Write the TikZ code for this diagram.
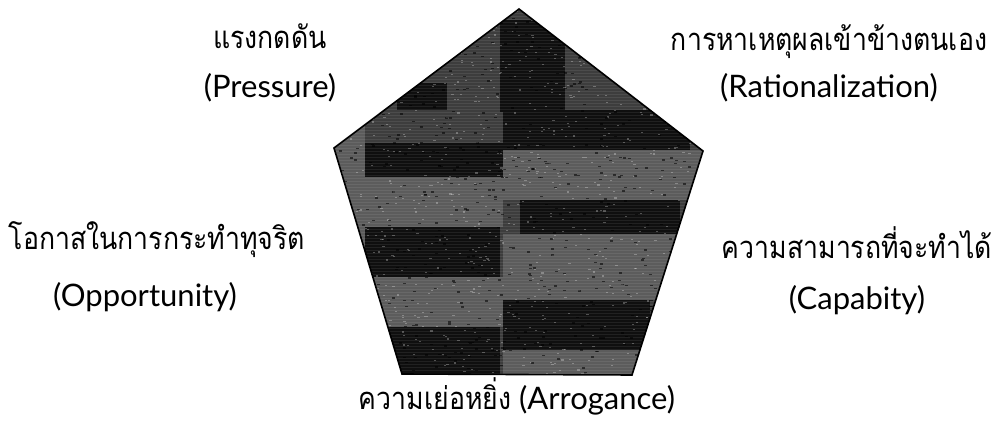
\documentclass[tikz,border=0pt]{standalone}
\usepackage{fontspec}
\setmainfont{Lato}
\newfontfamily\thai[Script=Thai,FakeStretch=0.86]{Loma}
\begin{document}
\begin{tikzpicture}[x=1pt,y=-1pt,
  lbl/.style={inner sep=0pt, font=\fontsize{31}{37}\selectfont, align=center},
  dk/.style={fill=black!94},
  lt/.style={fill=black!64}]
\useasboundingbox (0,0) rectangle (1005,430);
\coordinate (T) at (519,9);
\coordinate (R) at (703,151);
\coordinate (BR) at (632,375);
\coordinate (BL) at (402,374);
\coordinate (L) at (334,148);
\begin{scope}
  \clip (T) -- (R) -- (BR) -- (BL) -- (L) -- cycle;
  \fill[black!76] (330,0) rectangle (710,380);
  % left column
  \fill[lt] (330,120) rectangle (365,380);
  \fill[lt] (365,177) rectangle (503,227);
  \fill[lt] (365,277) rectangle (503,327);
  \fill[dk] (365,143) rectangle (503,177);
  \fill[dk] (365,227) rectangle (500,277);
  \fill[dk] (385,327) rectangle (500,374);
  \fill[dk] (397,83) rectangle (447,110);
  % right column
  \fill[lt] (503,150) rectangle (710,200);
  \fill[lt] (503,234) rectangle (710,300);
  \fill[lt] (503,350) rectangle (710,380);
  \fill[dk] (500,20) rectangle (565,112);
  \fill[dk] (503,110) rectangle (690,150);
  \fill[dk] (520,200) rectangle (680,234);
  \fill[dk] (503,300) rectangle (650,350);
  \foreach \yy in {10,13,...,376} {
    \draw[white, opacity=0.08, line width=0.7pt] (330,\yy) -- (710,\yy);
  }
  \pgfmathsetseed{7}
  \foreach \i in {1,...,900} {
    \pgfmathsetmacro{\px}{330+380*rnd}
    \pgfmathsetmacro{\py}{5+372*rnd}
    \fill[white, opacity=0.28] (\px,\py) rectangle ++(2.2,1.1);
  }
  \foreach \i in {1,...,700} {
    \pgfmathsetmacro{\px}{330+380*rnd}
    \pgfmathsetmacro{\py}{5+372*rnd}
    \fill[black, opacity=0.55] (\px,\py) rectangle ++(3,1.4);
  }
\end{scope}
\draw[line width=1.6pt, line join=miter] (T) -- (R) -- (BR) -- (BL) -- (L) -- cycle;

\node[lbl] (pth) at (270,36) {\thai แรงกดดัน};
\node[lbl] (pen) at (270,88) {(Pressure)};
\node[lbl] (rth) at (829,42) {\thai การหาเหตุผลเข้าข้างตนเอง};
\node[lbl] (ren) at (829,88) {(Rationalization)};
\node[lbl] (oth) at (157,240) {\thai โอกาสในการกระทำทุจริต};
\node[lbl] (oen) at (145,297) {(Opportunity)};
\node[lbl] (cth) at (857,243) {\thai ความสามารถที่จะทำได้};
\node[lbl] (cen) at (857,300) {(Capabity)};
\node[lbl] (ath) at (517,396) {{\thai ความเย่อหยิ่ง} (Arrogance)};
\end{tikzpicture}
\end{document}
